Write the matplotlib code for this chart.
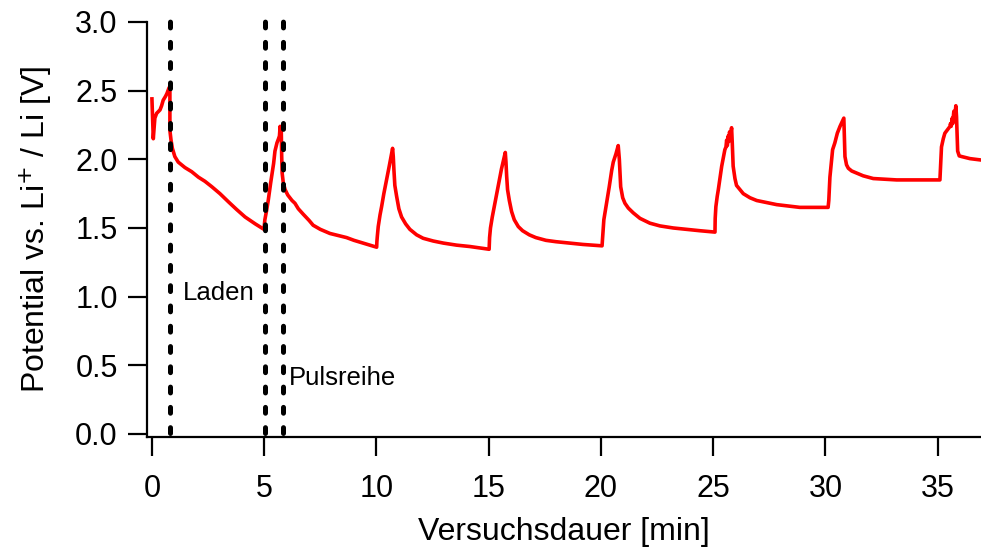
import matplotlib
matplotlib.use("Agg")
import matplotlib.pyplot as plt

plt.rcParams['font.family'] = ['Liberation Sans', 'DejaVu Sans']
plt.rcParams['lines.scale_dashes'] = False

# Potential during charging ("Laden") and the following pulse series
time_min = [
    # open circuit start and first charge pulse
    0.00, 0.06, 0.13, 0.21, 0.36, 0.43, 0.50, 0.61, 0.67, 0.76, 0.80,
    # relaxation / charging
    0.80, 0.80, 0.85, 0.91, 1.02, 1.17, 1.47, 1.77, 2.07, 2.36, 2.67, 3.03, 3.41, 3.77, 4.15, 4.60, 4.99,
    # pulse 0
    5.03, 5.11, 5.18, 5.29, 5.42, 5.48, 5.57, 5.64, 5.68, 5.71, 5.74, 5.76,
    5.78, 5.80, 5.85, 5.93, 6.05, 6.24, 6.37, 6.52, 6.74, 7.00, 7.18, 7.50, 7.93, 8.30, 8.67, 9.00, 9.41, 10.01,
    # pulse 1
    10.02, 10.04, 10.08, 10.16, 10.23, 10.33, 10.45, 10.57, 10.72,
    10.75, 10.78, 10.82, 10.90, 11.00, 11.12, 11.30, 11.49, 11.79, 12.08, 12.53, 12.98, 13.57, 14.16, 15.02,
    # pulse 2
    15.03, 15.04, 15.08, 15.16, 15.23, 15.33, 15.45, 15.57, 15.74,
    15.77, 15.80, 15.84, 15.92, 16.02, 16.14, 16.32, 16.51, 16.81, 17.10, 17.55, 18.00, 18.60, 19.20, 20.05,
    # pulse 3
    20.07, 20.10, 20.13, 20.25, 20.37, 20.48, 20.55, 20.67, 20.77,
    20.82, 20.88, 20.97, 21.07, 21.22, 21.44, 21.74, 22.18, 22.63, 23.22, 23.82, 24.41, 25.08,
    # pulse 4
    25.09, 25.12, 25.18, 25.23, 25.30, 25.38, 25.45, 25.52, 25.57, 25.60, 25.63, 25.67, 25.70,
    25.73, 25.76, 25.82, 25.85, 25.89, 25.97, 26.04, 26.19, 26.34, 26.64, 26.94, 27.38, 27.83,
    28.34, 28.86, 30.12,
    # pulse 5
    30.15, 30.20, 30.32, 30.42, 30.53, 30.65, 30.75, 30.82,
    30.85, 30.87, 30.94, 31.02, 31.17, 31.39, 31.68, 32.13, 32.65, 33.17, 35.10,
    # pulse 6
    35.13, 35.17, 35.25, 35.32, 35.41, 35.55, 35.57, 35.60, 35.65, 35.67, 35.72, 35.76, 35.81,
    35.84, 35.89, 35.96, 36.07, 36.44, 36.93,
]
potential_v = [
    2.44, 2.15, 2.30, 2.335, 2.36, 2.39, 2.43, 2.46, 2.48, 2.52, 2.53,
    2.335, 2.21, 2.14, 2.08, 2.02, 1.98, 1.94, 1.91, 1.87, 1.84, 1.80, 1.75, 1.69, 1.635, 1.58, 1.53, 1.49,
    1.56, 1.63, 1.70, 1.83, 1.97, 2.06, 2.12, 2.15, 2.17, 2.24, 2.19, 2.22,
    2.02, 1.90, 1.83, 1.78, 1.74, 1.70, 1.68, 1.64, 1.60, 1.555, 1.52, 1.49, 1.46, 1.445, 1.43, 1.41, 1.39, 1.36,
    1.40, 1.44, 1.51, 1.595, 1.655, 1.75, 1.85, 1.95, 2.08,
    2.02, 1.92, 1.81, 1.73, 1.64, 1.58, 1.53, 1.49, 1.45, 1.425, 1.405, 1.39, 1.375, 1.365, 1.345,
    1.39, 1.43, 1.50, 1.58, 1.64, 1.73, 1.83, 1.93, 2.05,
    1.98, 1.88, 1.78, 1.70, 1.62, 1.56, 1.51, 1.48, 1.45, 1.43, 1.41, 1.40, 1.39, 1.38, 1.37,
    1.42, 1.49, 1.56, 1.68, 1.80, 1.92, 1.98, 2.04, 2.10,
    2.00, 1.80, 1.72, 1.68, 1.645, 1.61, 1.57, 1.535, 1.515, 1.50, 1.49, 1.48, 1.47,
    1.57, 1.655, 1.73, 1.78, 1.86, 1.95, 2.01, 2.07, 2.09, 2.14, 2.10, 2.17, 2.13,
    2.20, 2.16, 2.23, 2.12, 1.95, 1.86, 1.81, 1.78, 1.75, 1.72, 1.70, 1.685, 1.67,
    1.66, 1.65, 1.65,
    1.70, 1.87, 2.07, 2.12, 2.19, 2.24, 2.275, 2.30,
    2.14, 2.02, 1.96, 1.935, 1.915, 1.90, 1.88, 1.86, 1.855, 1.85, 1.85,
    1.95, 2.09, 2.15, 2.19, 2.21, 2.24, 2.26, 2.24, 2.30, 2.26, 2.35, 2.31, 2.39,
    2.31, 2.06, 2.025, 2.02, 2.005, 1.995,
]

# Phase boundaries and their labels
marker_times = [0.80, 5.03, 5.82]
phase_labels = ["Laden", "Pulsreihe"]
phase_label_pos = [(1.40, 1.03), (6.10, 0.41)]

fig = plt.figure(figsize=(9.81, 5.5), dpi=100)
ax = fig.add_axes([147 / 981, (550 - 436.7) / 550, (981 - 147) / 981, (436.7 - 22) / 550])

ax.plot(time_min, potential_v, color="#ff0000", lw=2.6, zorder=3,
        solid_joinstyle="round")

# dotted phase markers, drawn upward from the time axis
for t in marker_times:
    ax.plot([t, t], [0.005, 3.06], color="black", lw=3.6, dashes=(4.2, 10.4),
            dash_capstyle="round", clip_on=False, zorder=4)

for text, (tx, ty) in zip(phase_labels, phase_label_pos):
    ax.text(tx, ty, text, fontsize=18.5, ha="left", va="center", color="black")

ax.set_xlim(-0.22, 36.93)
ax.set_ylim(-0.02, 3.0)
ax.set_xticks([0, 5, 10, 15, 20, 25, 30, 35])
ax.set_yticks([0.0, 0.5, 1.0, 1.5, 2.0, 2.5, 3.0])
ax.set_yticklabels(["0.0", "0.5", "1.0", "1.5", "2.0", "2.5", "3.0"])

for side in ("top", "right"):
    ax.spines[side].set_visible(False)
for side in ("left", "bottom"):
    ax.spines[side].set_linewidth(1.6)

ax.tick_params(direction="out", length=14, width=1.6, labelsize=22, pad=7)
ax.tick_params(axis="x", pad=13)

ax.set_xlabel("Versuchsdauer [min]", fontsize=23, labelpad=9)
ax.set_ylabel("Potential vs. Li$^{+}$ / Li [V]", fontsize=23, labelpad=15)

fig.savefig("out.png", dpi=100)
